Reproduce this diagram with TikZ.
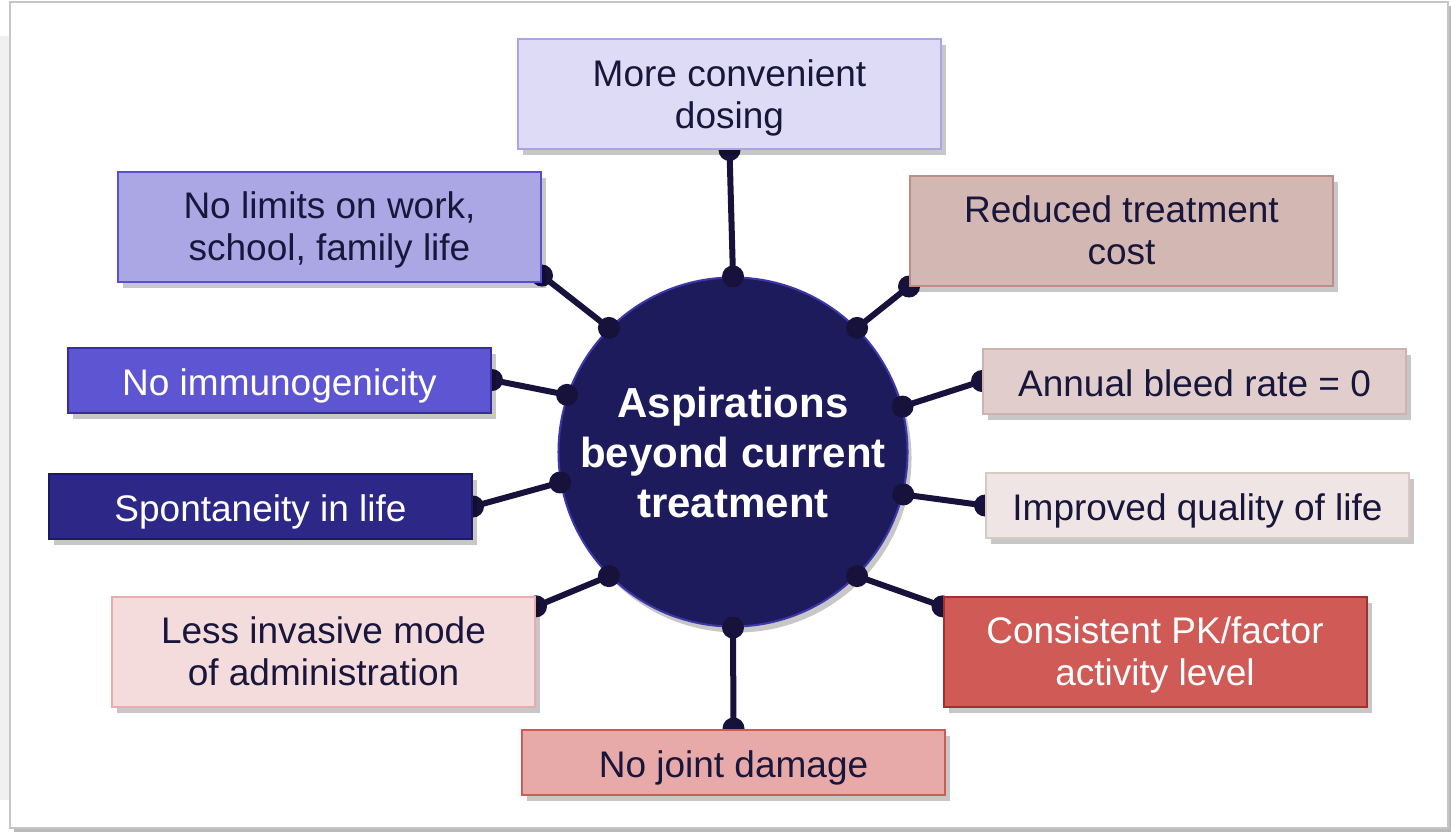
\documentclass[tikz,border=0pt]{standalone}
\usepackage{fontspec}
\setmainfont{Liberation Sans}
\usetikzlibrary{shadows}
\pgfdeclarelayer{bg}
\pgfdeclarelayer{mid}
\pgfsetlayers{bg,mid,main}
\definecolor{ink}{HTML}{19163C}
\definecolor{wire}{HTML}{16123C}
\definecolor{hubfill}{HTML}{1E1B5C}
\definecolor{hubline}{HTML}{3C37AA}
\tikzset{
  aspbox/.style={draw, line width=1pt, minimum width=211.5pt, align=center,
    text=ink, font=\fontsize{18.5}{21}\selectfont, text depth=0pt,
    drop shadow={shadow xshift=2.5pt, shadow yshift=-3pt, fill=black, opacity=0.22}},
  tall/.style={minimum height=55pt, text depth=-2pt},
  flat/.style={minimum height=32.5pt, text height=15pt},
  conn/.style={wire, line width=3pt},
}
\begin{document}
\begin{tikzpicture}[x=0.5pt, y=-0.5pt]
  \useasboundingbox (0,0) rectangle (1451,832);
  % frame and hub
  \begin{pgfonlayer}{bg}
    \fill[gray!12] (0,36) rectangle (10,800);
    \fill[gray!55] (14,6) rectangle (1451,832);
    \fill[white, draw=gray!45, line width=1pt] (10,2) rectangle (1448,828);
    \node[circle, fill=hubfill, draw=hubline, line width=1pt, minimum size=172pt,
      text=white, align=center, font=\bfseries\fontsize{21}{25}\selectfont,
      drop shadow={shadow xshift=2pt, shadow yshift=-3pt, fill=black, opacity=0.22}]
      (hub) at (733,452) {Aspirations\\beyond current\\treatment};
  \end{pgfonlayer}
  % boxes
  \node[aspbox, tall, fill={rgb,255:red,221;green,219;blue,245}, draw={rgb,255:red,170;green,165;blue,226}]
    (conv) at (729.5,94) {More convenient\\dosing};
  \node[aspbox, tall, fill={rgb,255:red,171;green,166;blue,228}, draw={rgb,255:red,90;green,80;blue,205}]
    (limits) at (329.5,226.5) {No limits on work,\\school, family life};
  \node[aspbox, tall, fill={rgb,255:red,211;green,183;blue,178}, draw={rgb,255:red,190;green,140;blue,134}]
    (cost) at (1121.5,230.5) {Reduced treatment\\cost};
  \node[aspbox, flat, fill={rgb,255:red,94;green,85;blue,210}, draw={rgb,255:red,55;green,45;blue,160}, text=white]
    (immuno) at (279.5,380) {No immunogenicity};
  \node[aspbox, flat, fill={rgb,255:red,225;green,206;blue,204}, draw={rgb,255:red,205;green,178;blue,174}]
    (bleed) at (1194.5,381) {Annual bleed rate = 0};
  \node[aspbox, flat, fill={rgb,255:red,45;green,40;blue,136}, draw={rgb,255:red,30;green,25;blue,100}, text=white]
    (spont) at (260.5,506.5) {Spontaneity in life};
  \node[aspbox, flat, fill={rgb,255:red,239;green,229;blue,228}, draw={rgb,255:red,218;green,200;blue,197}]
    (quality) at (1197.5,505.5) {Improved quality of life};
  \node[aspbox, tall, fill={rgb,255:red,245;green,220;blue,220}, draw={rgb,255:red,232;green,172;blue,172}]
    (invasive) at (323.5,651.5) {Less invasive mode\\of administration};
  \node[aspbox, tall, fill={rgb,255:red,208;green,91;blue,86}, draw={rgb,255:red,160;green,50;blue,45}, text=white]
    (pk) at (1155,651.5) {Consistent PK/factor\\activity level};
  \node[aspbox, flat, fill={rgb,255:red,232;green,170;blue,168}, draw={rgb,255:red,208;green,91;blue,86}]
    (joint) at (733.5,762) {No joint damage};
  % connectors
  \begin{pgfonlayer}{mid}
    \foreach \a/\b in {hub.90/conv.south, hub.135/limits.-13, hub.45/cost.south west,
        hub.161/immuno.east, hub.15/bleed.west, hub.190/spont.east,
        hub.-14/quality.west, hub.225/invasive.12, hub.-45/pk.168, hub.270/joint.north} {
      \draw[conn] (\a) -- (\b);
      \fill[wire] (\a) circle (5.5pt);
      \fill[wire] (\b) circle (5.5pt);
    }
  \end{pgfonlayer}
\end{tikzpicture}
\end{document}
